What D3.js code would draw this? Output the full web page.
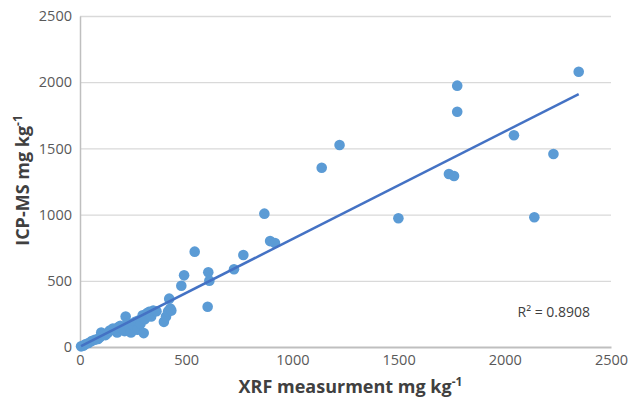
<!DOCTYPE html>
<html>
<head>
<meta charset="utf-8">
<script src="https://cdn.jsdelivr.net/npm/d3@7"></script>
<style>
  body { margin: 0; background: #fff; }
  svg text { font-family: "Open Sans", "Liberation Sans", sans-serif; }
</style>
</head>
<body>
<svg id="chart" width="630" height="406"></svg>
<script>
// XRF (x) vs ICP-MS (y), mg kg-1
const xrf = [5, 15, 25, 40, 55, 70, 85, 95, 100, 110, 120, 130, 140, 155, 165, 175, 180, 190,
  200, 210, 215, 225, 235, 240, 250, 260, 270, 275, 285, 295, 300, 305, 315, 325, 335, 345,
  360, 395, 405, 415, 420, 425, 430,
  477, 490, 540, 601, 604, 609, 725, 769, 868, 895, 918, 1138, 1222, 1499, 1737, 1761,
  1776, 1776, 2043, 2139, 2229, 2348];
const icpms = [5, 10, 20, 30, 45, 55, 60, 75, 110, 95, 90, 105, 125, 140, 130, 110, 150, 160,
  140, 120, 230, 180, 150, 110, 165, 190, 130, 200, 175, 240, 105, 210, 255, 265, 230, 275,
  270, 190, 230, 270, 365, 290, 275,
  463, 541, 720, 304, 564, 501, 587, 695, 1007, 800, 785, 1354, 1526, 972, 1307, 1292,
  1777, 1974, 1599, 980, 1458, 2079];
const xTicks = [0, 500, 1000, 1500, 2000, 2500];
const yTicks = [0, 500, 1000, 1500, 2000, 2500];
// linear trendline as shown on the chart
const trendSlope = 0.812;
const trendIntercept = 3;
const rSquared = '0.8908';

const points = xrf.map((d, i) => ({ x: d, y: icpms[i] }));

const margins = { left: 80, right: 19, top: 16, bottom: 59 };
const width = 630, height = 406;

const vis = d3.select('#chart');
const xScale = d3.scaleLinear().domain([0, 2500]).range([margins.left, width - margins.right]);
const yScale = d3.scaleLinear().domain([0, 2500]).range([height - margins.bottom, margins.top]);

// horizontal gridlines
vis.append('g')
  .attr('transform', 'translate(' + margins.left + ',0)')
  .call(d3.axisLeft(yScale).tickValues(yTicks.slice(1))
    .tickSize(-(width - margins.left - margins.right)).tickFormat(''))
  .call(g => g.select('.domain').remove())
  .call(g => g.selectAll('.tick line').attr('stroke', '#d9d9d9').attr('stroke-width', 1.3));

// y axis
vis.append('g')
  .attr('transform', 'translate(' + margins.left + ',0)')
  .call(d3.axisLeft(yScale).tickValues(yTicks).tickSize(0).tickPadding(8).tickFormat(d3.format('d')))
  .call(g => g.select('.domain').attr('stroke', '#bfbfbf').attr('stroke-width', 1.5))
  .call(g => g.selectAll('text').attr('fill', '#595959').style('font-size', '14.5px'));

// x axis
vis.append('g')
  .attr('transform', 'translate(0,' + yScale(0) + ')')
  .call(d3.axisBottom(xScale).tickValues(xTicks).tickSize(0).tickPadding(8).tickFormat(d3.format('d')))
  .call(g => g.select('.domain').attr('stroke', '#bfbfbf').attr('stroke-width', 2))
  .call(g => g.selectAll('text').attr('fill', '#595959').style('font-size', '14.5px'));

// points
vis.append('g')
  .selectAll('circle')
  .data(points)
  .join('circle')
  .attr('cx', d => xScale(d.x))
  .attr('cy', d => yScale(d.y))
  .attr('r', 5.3)
  .attr('fill', '#5b9bd5');

// trendline
const xMin = d3.min(xrf), xMax = d3.max(xrf);
const lineGen = d3.line().x(d => xScale(d)).y(d => yScale(trendSlope * d + trendIntercept));
vis.append('path')
  .attr('d', lineGen([xMin, xMax]))
  .attr('stroke', '#4472c4')
  .attr('stroke-width', 2.5)
  .attr('fill', 'none');

// R squared label
vis.append('text')
  .attr('x', 590)
  .attr('y', 317)
  .attr('text-anchor', 'end')
  .attr('fill', '#404040')
  .style('font-size', '14px')
  .text('R² = ' + rSquared);

// axis titles
const xTitle = vis.append('text')
  .attr('x', (margins.left + width - margins.right) / 2 + 5)
  .attr('y', 393)
  .attr('text-anchor', 'middle')
  .attr('fill', '#404040')
  .style('font-size', '18px')
  .style('font-weight', 'bold');
xTitle.append('tspan').text('XRF measurment mg kg');
xTitle.append('tspan').attr('dy', -7).style('font-size', '12px').text('-1');

const yTitle = vis.append('text')
  .attr('transform', 'translate(29,' + ((margins.top + height - margins.bottom) / 2 - 1) + ') rotate(-90)')
  .attr('text-anchor', 'middle')
  .attr('fill', '#404040')
  .style('font-size', '18px')
  .style('font-weight', 'bold');
yTitle.append('tspan').text('ICP-MS mg kg');
yTitle.append('tspan').attr('dy', -7).style('font-size', '12px').text('-1');
</script>
</body>
</html>
